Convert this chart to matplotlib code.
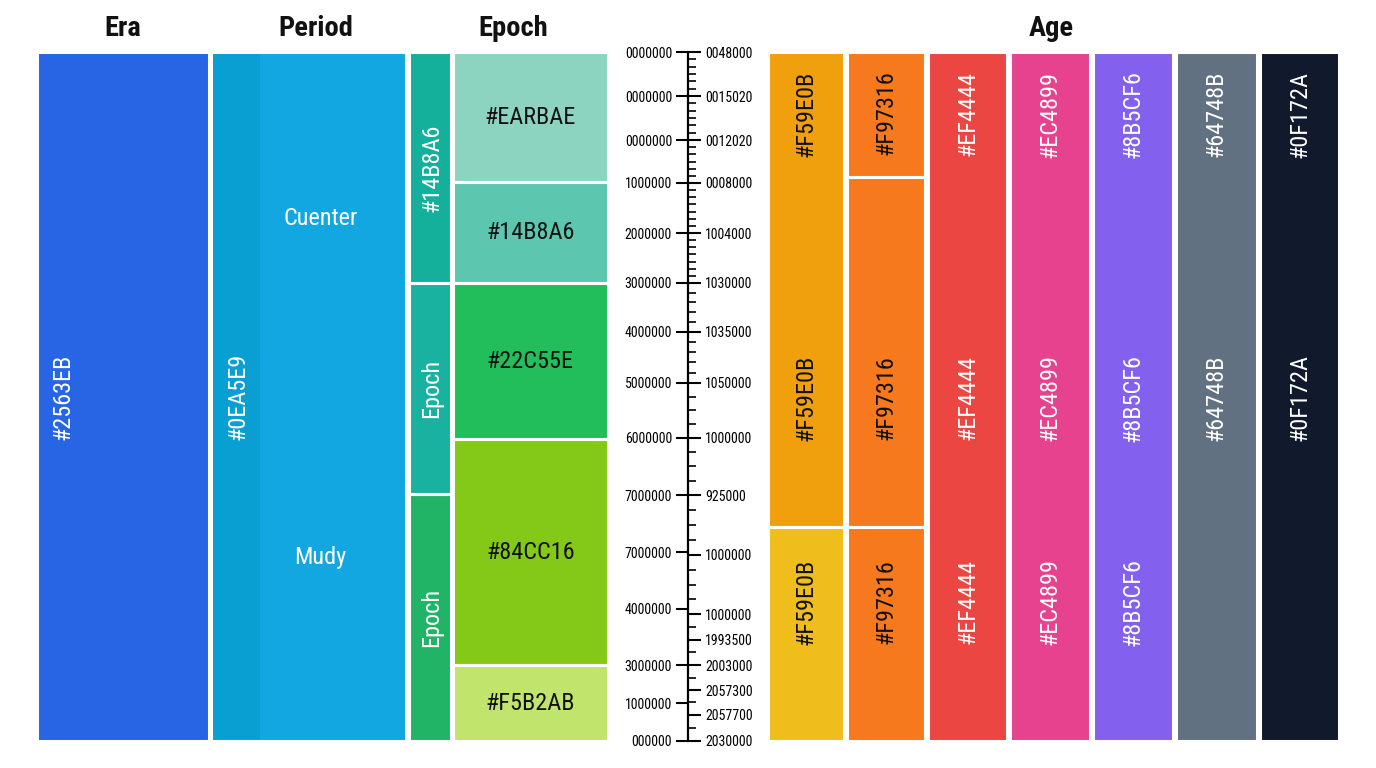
import matplotlib

matplotlib.use("Agg")
import matplotlib.pyplot as plt
from matplotlib import font_manager

W, H = 1376, 768
TOP_PX, BOTTOM_PX = 52, 741

# ---- data (time scale runs 0 at top to 100 at bottom) ----
ERA_BOUNDS = [0, 100]
ERA_COLORS = ["#2765E5"]
ERA_LABELS = ["#2563EB"]

PERIOD_BOUNDS = [0, 100]
PERIOD_COLORS = ["#12A7E1"]
PERIOD_STRIP_COLOR = "#0A9FD3"
PERIOD_CODE = "#0EA5E9"
PERIOD_NAMES = ["Cuenter", "Mudy"]
PERIOD_NAME_POS = [24.1, 73.4]

SUBEPOCH_BOUNDS = [0, 33.5, 64.2, 100]
SUBEPOCH_COLORS = ["#15B09C", "#19B2A0", "#22B466"]
SUBEPOCH_LABELS = ["#14B8A6", "Epoch", "Epoch"]

EPOCH_BOUNDS = [0, 18.9, 33.5, 56.2, 89.0, 100]
EPOCH_COLORS = ["#8DD4C0", "#5DC6AF", "#22BE5C", "#84C918", "#C1E46C"]
EPOCH_LABELS = ["#EARBAE", "#14B8A6", "#22C55E", "#84CC16", "#F5B2AB"]

AGE_NAMES = ["#F59E0B", "#F97316", "#EF4444", "#EC4899", "#8B5CF6",
             "#64748B", "#0F172A"]
AGE_BOUNDS = [
    [0, 69.0, 100],
    [0, 18.2, 69.0, 100],
    [0, 100],
    [0, 100],
    [0, 100],
    [0, 100],
    [0, 100],
]
AGE_FILLS = [
    ["#F0A00D", "#F0BE1C"],
    ["#F7791E", "#F7791E", "#F7791E"],
    ["#EB4642"],
    ["#E6428E"],
    ["#8460EE"],
    ["#627181"],
    ["#111A2D"],
]
AGE_TEXT = ["#111111", "#111111", "white", "white", "white", "white", "white"]
AGE_LABEL_TOP = 2.7
AGE_LABEL_MID = [50.2] * 7
AGE_LABEL_LOW = [79.8, 79.8, 79.8, 79.8, 79.8, None, None]

LEFT_TICKS = [0, 6.4, 12.8, 19.0, 26.3, 33.5, 40.6, 48.0, 56.0, 64.3,
              72.6, 80.8, 89.0, 94.5, 100]
LEFT_LABELS = ["0000000", "0000000", "0000000", "1000000", "2000000",
               "3000000", "4000000", "5000000", "6000000", "7000000",
               "7000000", "4000000", "3000000", "1000000", "000000"]
RIGHT_TICKS = [0, 6.4, 12.8, 19.0, 26.3, 33.5, 40.6, 48.0, 56.0, 64.3,
               73.0, 81.6, 85.3, 89.0, 92.6, 96.2, 100]
RIGHT_LABELS = ["0048000", "0015020", "0012020", "0008000", "1004000",
                "1030000", "1035000", "1050000", "1000000", "925000",
                "1000000", "1000000", "1993500", "2003000", "2057300",
                "2057700", "2030000"]
MINOR_DIVS = [6, 6, 6, 7, 7, 5, 5, 4, 4, 4, 4, 2, 2, 2, 2, 2]

# ---- fonts ----
installed = {f.name for f in font_manager.fontManager.ttflist}
FONT = "DejaVu Sans"
for cand in ["Roboto Condensed", "Liberation Sans Narrow", "Roboto"]:
    if cand in installed:
        FONT = cand
        break
plt.rcParams["font.family"] = [FONT, "DejaVu Sans"]


def px_axes(fig, x0, x1, y0=TOP_PX, y1=BOTTOM_PX):
    ax = fig.add_axes([x0 / W, 1 - y1 / H, (x1 - x0) / W, (y1 - y0) / H])
    ax.set_xlim(0, 1)
    ax.set_ylim(100, 0)
    ax.axis("off")
    return ax


def stack(ax, bounds, colors, fill=True, edge=True):
    for start, end, color in zip(bounds[:-1], bounds[1:], colors):
        if fill:
            ax.bar(0.5, end - start, bottom=start, width=1.0, color=color,
                   linewidth=0)
        if edge:
            ax.bar(0.5, end - start, bottom=start, width=1.0, fill=False,
                   edgecolor="white", linewidth=2.2, zorder=3)


fig = plt.figure(figsize=(W / 100, H / 100), dpi=100)
fig.patch.set_facecolor("white")

LABEL_SIZE = 17.5

# Era
ax = px_axes(fig, 37, 209)
stack(ax, ERA_BOUNDS, ERA_COLORS)
for start, end, label in zip(ERA_BOUNDS[:-1], ERA_BOUNDS[1:], ERA_LABELS):
    ax.text(0.15, (start + end) / 2, label, rotation=90, ha="center",
            va="center", color="white", fontsize=LABEL_SIZE, zorder=4)

# Period
ax = px_axes(fig, 211, 406)
stack(ax, PERIOD_BOUNDS, PERIOD_COLORS, edge=False)
ax.bar(0.125, PERIOD_BOUNDS[-1] - PERIOD_BOUNDS[0], bottom=PERIOD_BOUNDS[0],
       width=0.25, color=PERIOD_STRIP_COLOR, linewidth=0)
stack(ax, PERIOD_BOUNDS, PERIOD_COLORS, fill=False)
ax.text(0.14, 50.0, PERIOD_CODE, rotation=90, ha="center", va="center",
        color="white", fontsize=LABEL_SIZE, zorder=4)
for name, pos in zip(PERIOD_NAMES, PERIOD_NAME_POS):
    ax.text(0.56, pos, name, ha="center", va="center", color="white",
            fontsize=LABEL_SIZE, zorder=4)

# Epoch (narrow sub column)
ax = px_axes(fig, 409, 451)
stack(ax, SUBEPOCH_BOUNDS, SUBEPOCH_COLORS)
for start, end, label in zip(SUBEPOCH_BOUNDS[:-1], SUBEPOCH_BOUNDS[1:],
                             SUBEPOCH_LABELS):
    ax.text(0.55, (start + end) / 2, label, rotation=90, ha="center",
            va="center", color="white", fontsize=LABEL_SIZE, zorder=4)

# Epoch boxes
ax = px_axes(fig, 453, 608)
stack(ax, EPOCH_BOUNDS, EPOCH_COLORS)
for start, end, label in zip(EPOCH_BOUNDS[:-1], EPOCH_BOUNDS[1:],
                             EPOCH_LABELS):
    ax.text(0.5, (start + end) / 2, label, ha="center", va="center",
            color="#111111", fontsize=LABEL_SIZE, zorder=4)

# Age columns
AGE_X = [(768, 844), (847, 925), (928, 1007), (1010, 1090), (1093, 1173),
         (1176, 1257), (1260, 1339)]
for (x0, x1), name, bounds, fills, tcolor, mid, low in zip(
        AGE_X, AGE_NAMES, AGE_BOUNDS, AGE_FILLS, AGE_TEXT,
        AGE_LABEL_MID, AGE_LABEL_LOW):
    ax = px_axes(fig, x0, x1)
    stack(ax, bounds, fills)
    ax.text(0.5, AGE_LABEL_TOP, name, rotation=90, ha="center", va="top",
            color=tcolor, fontsize=LABEL_SIZE, zorder=4)
    ax.text(0.5, mid, name, rotation=90, ha="center", va="center",
            color=tcolor, fontsize=LABEL_SIZE, zorder=4)
    if low is not None:
        ax.text(0.5, low, name, rotation=90, ha="center", va="center",
                color=tcolor, fontsize=LABEL_SIZE, zorder=4)

# Headers
HEADERS = [("Era", 123), ("Period", 316), ("Epoch", 513), ("Age", 1051)]
for text, xpx in HEADERS:
    fig.text(xpx / W, 1 - 29 / H, text, ha="center", va="center",
             fontsize=20.5, fontweight="bold", color="#111111")

# Time axis
ax = fig.add_axes([688 / W, 1 - BOTTOM_PX / H, 0.5 / W,
                   (BOTTOM_PX - TOP_PX) / H])
ax.set_ylim(100, 0)
ax.set_xticks([])
for side in ["right", "top", "bottom"]:
    ax.spines[side].set_visible(False)
ax.spines["left"].set_linewidth(1.6)
ax.set_yticks(LEFT_TICKS)
ax.set_yticklabels(LEFT_LABELS)
ax.tick_params(axis="y", which="major", length=8.5, width=1.5, pad=3,
               labelsize=10, direction="out")
ax.patch.set_alpha(0)

tw = ax.twinx()
tw.set_ylim(100, 0)
for side in tw.spines:
    tw.spines[side].set_visible(False)
tw.set_yticks(RIGHT_TICKS)
tw.set_yticklabels(RIGHT_LABELS)
minors = []
for a, b, n in zip(RIGHT_TICKS[:-1], RIGHT_TICKS[1:], MINOR_DIVS):
    minors += [a + (b - a) * k / n for k in range(1, n)]
tw.set_yticks(minors, minor=True)
tw.tick_params(axis="y", which="major", length=8.5, width=1.5, pad=3.5,
               labelsize=10, direction="out")
tw.tick_params(axis="y", which="minor", length=5, width=1.2,
               direction="out")

fig.savefig("out.png", dpi=100)
plt.close(fig)
